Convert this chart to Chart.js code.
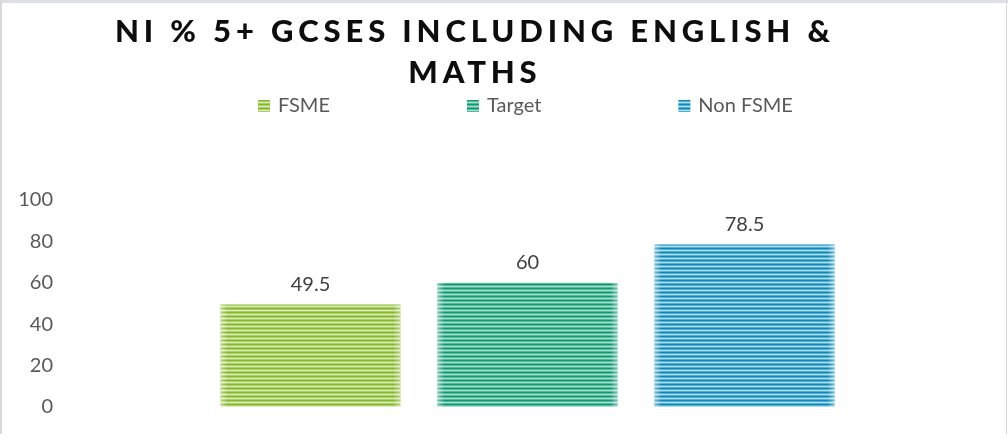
<!DOCTYPE html>
<html>
<head>
<meta charset="utf-8">
<script src="https://cdn.jsdelivr.net/npm/chart.js@4/dist/chart.umd.min.js"></script>
<style>
  html, body { margin: 0; padding: 0; background: #fff; }
  #wrap { width: 1008px; height: 434px; }
</style>
</head>
<body>
<div id="wrap"><canvas id="gcseChart" width="1008" height="434"></canvas></div>
<script>
// categories and values
var categories = ['FSME', 'Target', 'Non FSME'];
var values = [49.5, 60, 78.5];
var yTicks = [0, 20, 40, 60, 80, 100];
var titleLines = ['NI % 5+ GCSES INCLUDING ENGLISH &', 'MATHS'];

// stripe colours for each bar (dark, mid, light)
var stripeColors = [
  ['#86b632', '#a9cf64', '#dcedbd'],
  ['#159777', '#52b99a', '#ace0ce'],
  ['#1386b3', '#52aed2', '#afdff0']
];

// horizontal striped fill, 4px repeat
function makeStripes(c) {
  var pc = document.createElement('canvas');
  pc.width = 4; pc.height = 4;
  var p = pc.getContext('2d');
  p.fillStyle = c[0]; p.fillRect(0, 0, 4, 1);
  p.fillStyle = c[1]; p.fillRect(0, 1, 4, 1);
  p.fillStyle = c[2]; p.fillRect(0, 2, 4, 1);
  p.fillStyle = c[1]; p.fillRect(0, 3, 4, 1);
  return document.getElementById('gcseChart').getContext('2d').createPattern(pc, 'repeat');
}
var patterns = stripeColors.map(makeStripes);

var FONT = 'Lato, "Open Sans", sans-serif';

// border, title, legend, axis labels and value labels
var decorations = {
  id: 'decorations',
  beforeDraw: function (chart) {
    var ctx = chart.ctx;
    ctx.save();
    ctx.fillStyle = '#fff';
    ctx.fillRect(0, 0, chart.width, chart.height);
    ctx.fillStyle = '#dde1e5';
    ctx.fillRect(0, 0, chart.width, 3);
    ctx.fillStyle = '#d9d9d9';
    ctx.fillRect(0, 0, 2, chart.height);
    ctx.fillRect(chart.width - 2, 0, 1, chart.height);
    ctx.restore();
  },
  afterDatasetsDraw: function (chart) {
    var ctx = chart.ctx;
    var meta = chart.getDatasetMeta(0);
    var yScale = chart.scales.y;
    ctx.save();
    // soften the bar sides
    meta.data.forEach(function (bar) {
      var half = bar.width / 2;
      var g = ctx.createLinearGradient(bar.x - half, 0, bar.x + half, 0);
      g.addColorStop(0, 'rgba(255,255,255,0.45)');
      g.addColorStop(0.04, 'rgba(255,255,255,0)');
      g.addColorStop(0.96, 'rgba(255,255,255,0)');
      g.addColorStop(1, 'rgba(255,255,255,0.45)');
      ctx.fillStyle = g;
      ctx.fillRect(bar.x - half, bar.y, bar.width, bar.base - bar.y);
    });
    // value labels
    ctx.font = '20px ' + FONT;
    ctx.fillStyle = '#404040';
    ctx.textAlign = 'center';
    ctx.textBaseline = 'alphabetic';
    meta.data.forEach(function (bar, i) {
      ctx.fillText(String(values[i]), bar.x, bar.y - 14);
    });
    // y axis labels, kept well left of the bars
    ctx.fillStyle = '#595959';
    ctx.textAlign = 'right';
    ctx.textBaseline = 'middle';
    yTicks.forEach(function (v) {
      ctx.fillText(String(v), 53, yScale.getPixelForValue(v));
    });
    ctx.restore();
  },
  afterDraw: function (chart) {
    var ctx = chart.ctx;
    ctx.save();
    // title, spaced out to span the heading width
    ctx.font = '900 31px ' + FONT;
    ctx.fillStyle = '#0d0d0d';
    ctx.textAlign = 'left';
    ctx.textBaseline = 'alphabetic';
    var line = titleLines[0];
    var spacing = (715 - ctx.measureText(line).width) / (line.length - 1);
    ctx.letterSpacing = spacing + 'px';
    titleLines.forEach(function (t, i) {
      var w = ctx.measureText(t).width - spacing;
      ctx.fillText(t, 472.5 - w / 2, 42 + i * 41);
    });
    ctx.letterSpacing = '0px';
    // legend
    ctx.font = '20px ' + FONT;
    ctx.textBaseline = 'middle';
    var x = 258, y = 106;
    categories.forEach(function (name, i) {
      ctx.fillStyle = patterns[i];
      ctx.fillRect(x, y - 6, 12, 12);
      ctx.fillStyle = '#595959';
      ctx.fillText(name, x + 20, y);
      x += 20 + ctx.measureText(name).width + 137;
    });
    ctx.restore();
  }
};

new Chart(document.getElementById('gcseChart'), {
  type: 'bar',
  data: {
    labels: categories,
    datasets: [{
      label: 'NI % 5+ GCSEs',
      data: values,
      backgroundColor: patterns,
      borderWidth: 0,
      categoryPercentage: 1,
      barPercentage: 0.83
    }]
  },
  options: {
    responsive: false,
    animation: false,
    layout: { padding: { top: 200, left: 202, right: 155, bottom: 27 } },
    plugins: {
      legend: { display: false },
      title: { display: false },
      tooltip: { enabled: false }
    },
    scales: {
      x: { display: false },
      y: {
        min: yTicks[0],
        max: yTicks[yTicks.length - 1],
        grid: { display: false, drawTicks: false },
        border: { display: false },
        ticks: { display: false }
      }
    }
  },
  plugins: [decorations]
});
</script>
</body>
</html>
